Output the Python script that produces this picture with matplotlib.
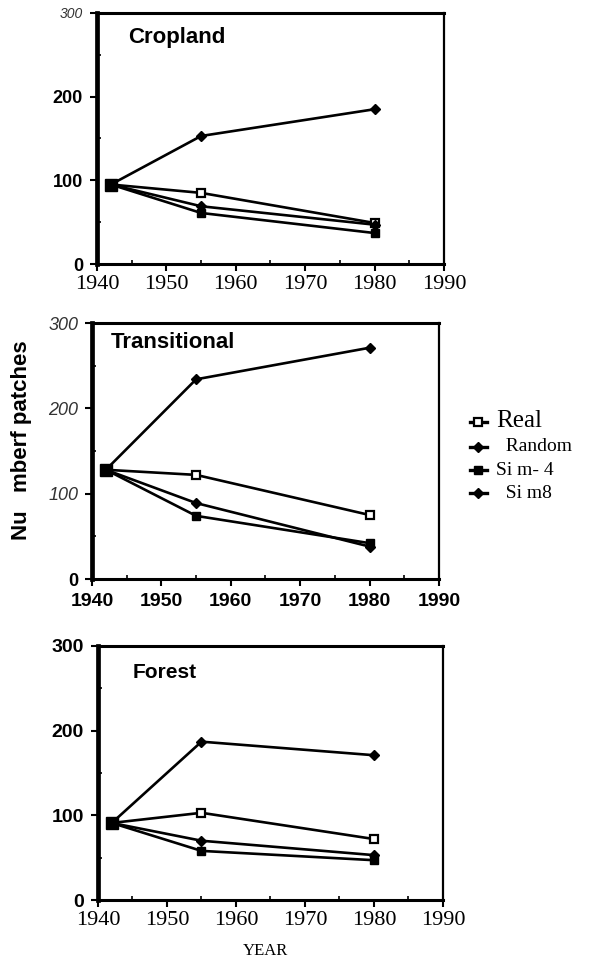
import numpy as np
import matplotlib
matplotlib.use("Agg")
import matplotlib.pyplot as plt
from matplotlib.ticker import MultipleLocator

# number of patches per land-cover class
years = [1942, 1955, 1980]

crop_real = [95, 85, 49]
crop_random = [95, 153, 185]
crop_sim4 = [95, 61, 37]
crop_sim8 = [95, 69, 47]

trans_real = [128, 122, 75]
trans_random = [128, 234, 271]
trans_sim4 = [128, 74, 42]
trans_sim8 = [128, 89, 38]

forest_real = [91, 103, 72]
forest_random = [91, 187, 171]
forest_sim4 = [91, 58, 47]
forest_sim8 = [91, 70, 53]

titles = ["Cropland", "Transitional", "Forest"]
legend_labels = ["Real", "  Random", "Si m- 4", "  Si m8"]
x_ticks = [1940, 1950, 1960, 1970, 1980, 1990]
y_ticks = [0, 100, 200, 300]

SANS = "Liberation Sans"
SERIF = "Liberation Serif"

fig = plt.figure(figsize=(5.91, 9.63), dpi=100)

# axes boxes in pixels: left, top, right, bottom
boxes = [(97, 13, 444, 264), (92, 323, 439, 579), (98, 646, 443, 900)]
W, H = 591.0, 963.0

data = [
    (crop_real, crop_random, crop_sim4, crop_sim8),
    (trans_real, trans_random, trans_sim4, trans_sim8),
    (forest_real, forest_random, forest_sim4, forest_sim8),
]

# y tick label styles per panel (style, weight, size) for 0,100,200,300
ystyles = [
    [("normal", "bold", 13), ("normal", "bold", 13), ("normal", "bold", 13), ("italic", "normal", 10)],
    [("normal", "bold", 13), ("italic", "normal", 13), ("italic", "normal", 13), ("italic", "normal", 13)],
    [("normal", "bold", 14), ("normal", "bold", 14), ("normal", "bold", 14), ("normal", "bold", 14)],
]
title_pos = [(128, 38), (111, 343), (133, 672)]
title_size = [16, 16, 15]

legend_lines = None
for i, (l, t, r, b) in enumerate(boxes):
    ax = fig.add_axes([l / W, 1 - b / H, (r - l) / W, (b - t) / H])
    real, rnd, s4, s8 = data[i]
    h1, = ax.plot(years, real, color="black", lw=1.9, marker="s", ms=5.5,
                  mfc="white", mec="black", mew=1.6)
    h2, = ax.plot(years, rnd, color="black", lw=1.9, marker="D", ms=5, mfc="black", mec="black")
    h3, = ax.plot(years, s4, color="black", lw=1.9, marker="s", ms=5.5, mfc="black", mec="black")
    h4, = ax.plot(years, s8, color="black", lw=1.9, marker="D", ms=5, mfc="black", mec="black")
    # the shared 1942 start value shows as one large dark square
    ax.plot(years[:1], s4[:1], color="black", marker="s", ms=8, ls="none")
    if i == 1:
        legend_lines = [h1, h2, h3, h4]

    ax.set_xlim(1940, 1990)
    ax.set_ylim(0, 300)
    ax.set_xticks(x_ticks)
    ax.set_yticks(y_ticks)
    ax.xaxis.set_minor_locator(MultipleLocator(5))
    ax.yaxis.set_minor_locator(MultipleLocator(50))
    ax.tick_params(which="major", direction="out", length=5, width=1.5, pad=3)
    ax.tick_params(axis="y", which="major", pad=5)
    ax.tick_params(which="minor", direction="in", length=3, width=1.2)

    ax.spines["left"].set_linewidth(3.4)
    ax.spines["bottom"].set_linewidth(2.2)
    ax.spines["top"].set_linewidth(2.2)
    ax.spines["right"].set_linewidth(1.6)

    if i == 1:
        ax.set_xticklabels([str(v) for v in x_ticks], fontfamily=SANS, fontweight="bold", fontsize=14)
        ax.tick_params(axis="x", pad=5)
    else:
        ax.set_xticklabels([str(v) for v in x_ticks], fontfamily=SERIF, fontsize=16)
    ax.set_yticklabels([str(v) for v in y_ticks])
    for lab, (st, wt, sz) in zip(ax.get_yticklabels(), ystyles[i]):
        lab.set_fontfamily(SANS)
        lab.set_fontstyle(st)
        lab.set_fontweight(wt)
        lab.set_fontsize(sz)
        if st == "italic":
            lab.set_color("#333333")

    tx, ty = title_pos[i]
    fig.text(tx / W, 1 - ty / H, titles[i], fontfamily=SANS, fontweight="bold",
             fontsize=title_size[i], va="center", ha="left")

leg = fig.legend(legend_lines, legend_labels, loc="center left",
                 bbox_to_anchor=(470 / W, 1 - 456 / H), frameon=False,
                 handlelength=1.2, handletextpad=0.7, labelspacing=0.45,
                 borderaxespad=0, borderpad=0)
for k, txt in enumerate(leg.get_texts()):
    txt.set_fontfamily(SERIF)
    txt.set_fontsize(18 if k == 0 else 14)
for hl in leg.get_lines():
    hl.set_linewidth(2.4)

fig.text(22 / W, 1 - 440 / H, "Nu   mberf patches", rotation=90, fontfamily=SANS,
         fontweight="bold", fontsize=16, ha="center", va="center")
fig.text(265 / W, 1 - 951 / H, "YEAR", fontfamily=SERIF, fontsize=12,
         ha="center", va="center")

fig.savefig("out.png", dpi=100)
